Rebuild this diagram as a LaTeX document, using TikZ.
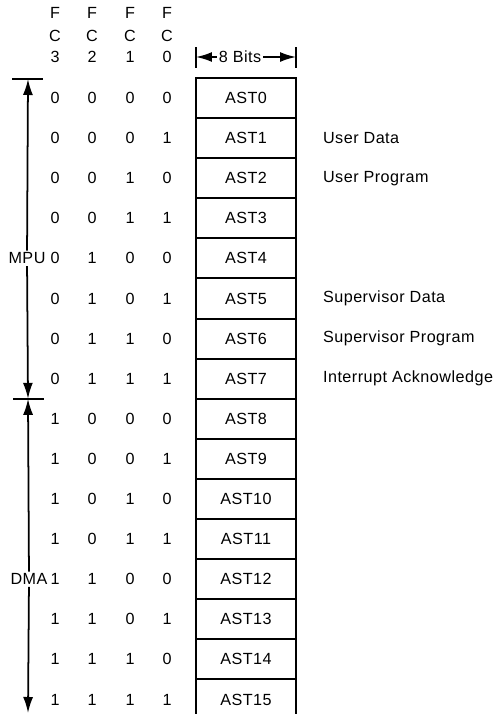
\documentclass[tikz,border=0pt]{standalone}
\usepackage{fontspec}
\setmainfont[LetterSpace=3]{Liberation Sans}
\usetikzlibrary{arrows.meta, positioning}

\begin{document}
\begin{tikzpicture}[x=0.02cm, y=-0.02cm,
    every node/.style={font=\fontsize{9.2}{11}\selectfont, inner sep=1pt},
    regbox/.style={rectangle, draw, line width=1.1pt, minimum width=2cm,
                   minimum height=0.802cm, inner sep=0pt},
    spanarrow/.style={line width=1pt, -{Latex[length=0.32cm, width=0.2cm]}},
    tickline/.style={line width=1.1pt},
  ]
    \useasboundingbox (0,0) rectangle (497,714);
    \clip (0,0) rectangle (497,714);

    % function code header
    \foreach \b/\x in {3/55, 2/92, 1/130, 0/167} {
      \node (hf\b) at (\x,13) {F};
      \node (hc\b) at (\x,36) {C};
      \node (hn\b) at (\x,57) {\b};
    }

    % address space table
    \foreach \r/\p/\q/\s/\t in {0/0/0/0/0, 1/0/0/0/1, 2/0/0/1/0, 3/0/0/1/1,
        4/0/1/0/0, 5/0/1/0/1, 6/0/1/1/0, 7/0/1/1/1,
        8/1/0/0/0, 9/1/0/0/1, 10/1/0/1/0, 11/1/0/1/1,
        12/1/1/0/0, 13/1/1/0/1, 14/1/1/1/0, 15/1/1/1/1} {
      \pgfmathsetmacro\yy{98+40.1*\r}
      \node (fa\r) at (55,\yy) {\p};
      \node (fb\r) at (92,\yy) {\q};
      \node (fc\r) at (130,\yy) {\s};
      \node (fd\r) at (167,\yy) {\t};
      \node[regbox] (ast\r) at (246,\yy) {AST\r};
    }

    % width of a register
    \node (bits) at (240,57) {8 Bits};
    \coordinate (bitsl) at (196,57);
    \coordinate (bitsr) at (296,57);
    \draw[tickline] (bitsl) ++(0,-10) -- ++(0,21);
    \draw[tickline] (bitsr) ++(0,-10) -- ++(0,21);
    \draw[spanarrow] (bits) -- (bitsl);
    \draw[spanarrow] (bits) -- (bitsr);

    % cycle types
    \node[right=0.48cm of ast1] (udata) {User Data};
    \node[right=0.48cm of ast2] (uprog) {User Program};
    \node[right=0.48cm of ast5] (sdata) {Supervisor Data};
    \node[right=0.48cm of ast6] (sprog) {Supervisor Program};
    \node[right=0.48cm of ast7] (iack) {Interrupt Acknowledge};

    % MPU and DMA ranges
    \node (mpu) at (27,258.4) {MPU};
    \node (dma) at (29,579.2) {DMA};
    \coordinate (mpuhi) at (28,79);
    \coordinate (split) at (28,398.8);
    \coordinate (dmalo) at (28,713);
    \draw[tickline] (mpuhi) ++(-16,0) -- ++(31,0);
    \draw[tickline] (split) ++(-15,0) -- ++(31,0);
    \draw[spanarrow] (mpu) -- (mpuhi);
    \draw[spanarrow] (mpu) -- (split);
    \draw[spanarrow] (dma) -- (split);
    \draw[spanarrow] (dma) -- (dmalo);
  \end{tikzpicture}
\end{document}
